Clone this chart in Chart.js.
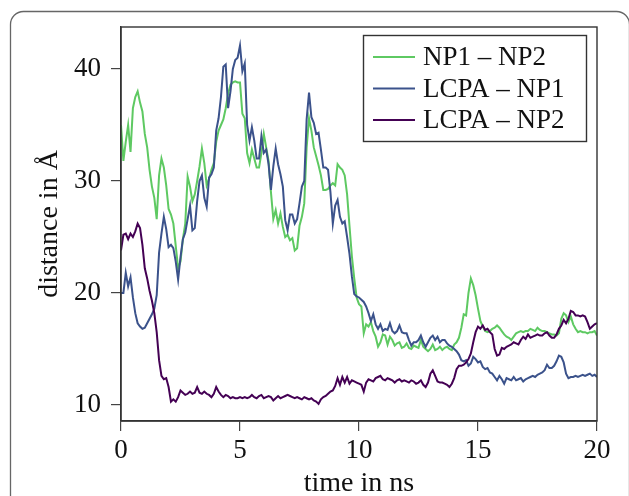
<!DOCTYPE html>
<html>
<head>
<meta charset="utf-8">
<script src="https://cdn.jsdelivr.net/npm/chart.js@4/dist/chart.umd.min.js"></script>
<style>
  body { margin: 0; background: #fff; }
  canvas { display: block; }
</style>
</head>
<body>
<canvas id="distChart" width="629" height="496"></canvas>
<script>
// sampling grid: 0 .. 20 ns every 0.1 ns
var times = Array.from({ length: 201 }, function (_, i) { return i / 10; });

var seriesLabels = ['NP1 – NP2', 'LCPA – NP1', 'LCPA – NP2'];

var np1np2 = [
  35.0, 31.8, 33.5, 35.0, 32.6, 36.5, 37.5, 38.0, 37.0, 36.2,
  34.2, 33.0, 31.0, 29.5, 28.5, 26.6, 30.5, 32.0, 31.2, 29.6,
  27.5, 27.0, 26.2, 24.2, 22.2, 22.8, 24.8, 26.2, 30.4, 29.5,
  28.2, 28.8, 30.0, 31.3, 32.9, 31.6, 29.6, 30.2, 31.0, 31.6,
  33.5, 34.5, 35.0, 35.5, 36.5, 37.8, 38.6, 38.8, 38.9, 38.8,
  38.8,
  36.0, 35.6, 32.5, 31.6, 32.8, 32.0, 31.2, 31.2, 32.5, 34.2,
  33.0, 31.8, 29.0, 26.6, 27.4, 26.2, 27.1, 25.9, 25.0, 25.2,
  24.7, 24.9, 23.8, 24.0, 26.0, 26.8, 28.0, 33.0, 35.6, 34.5,
  33.0, 32.2, 31.4, 30.5, 29.2, 29.2, 29.3, 29.6, 29.8, 29.6,
  31.5, 31.2, 31.0, 30.5, 28.8, 26.0, 23.3, 21.3, 19.6, 19.0,
  18.8, 16.4, 17.2, 17.0, 17.4, 16.6, 16.1, 15.2, 15.6, 16.3,
  16.2, 15.4, 16.1, 15.8, 15.3, 15.5, 15.6, 15.1, 15.2, 15.5,
  15.1, 15.0, 15.3, 15.2, 15.1, 15.8, 15.2, 15.0, 14.8, 15.0,
  15.4, 14.9, 15.0, 15.2, 14.9, 15.1, 15.2, 15.0, 14.9, 15.4,
  15.6, 16.0, 16.9, 18.1, 18.0, 20.0, 21.3, 20.7, 19.8, 18.6,
  17.5, 17.0, 16.6, 16.5, 16.6, 16.8, 16.9, 17.1, 16.9, 16.6,
  16.3, 16.1, 16.0, 15.8, 16.1, 16.4, 16.5, 16.6, 16.5, 16.6,
  16.6, 16.8, 16.7, 16.6, 16.9, 16.7, 16.6, 16.6, 16.5, 16.4,
  16.3, 16.3, 16.2, 16.4, 17.7, 18.2, 18.0, 17.4, 17.9, 17.2,
  16.8, 16.5, 16.6, 16.5, 16.5, 16.4, 16.5, 16.5, 16.6, 16.2
];

var lcpaNp1 = [
  20.0, 20.0, 21.8, 20.6, 21.4, 19.6, 18.2, 17.3, 17.0, 16.8,
  16.9, 17.3, 17.7, 18.1, 18.6, 19.8, 23.6, 25.3, 26.8, 25.7,
  24.1, 24.3, 24.0, 22.8, 21.2, 23.2, 24.8, 25.4, 26.6, 27.8,
  25.6, 25.8, 28.2, 30.0, 30.5, 28.5, 27.7, 30.3, 30.6, 31.2,
  34.5, 35.6, 37.5, 40.2, 40.4, 36.5, 38.0, 40.0, 40.8, 41.0,
  42.1,
  39.8, 40.5, 35.0, 33.6, 34.8, 33.6, 32.0, 32.0, 34.0, 32.5,
  32.8, 31.5, 29.2, 31.3, 32.9, 31.5, 30.6, 29.5, 26.5, 25.6,
  27.0, 27.0, 26.2, 26.6, 28.0, 29.5, 30.0, 35.5, 37.9, 35.7,
  35.2, 34.2, 34.3, 32.8, 31.2, 31.2, 31.0, 29.0, 26.2, 27.8,
  28.3, 26.8, 26.2, 26.4, 25.0, 23.5, 21.5, 19.9, 19.7, 19.6,
  19.4, 19.2, 18.8, 18.2, 17.5, 18.1, 17.2, 16.8, 17.2, 16.6,
  16.8, 16.7, 17.3, 16.6, 16.4, 16.6, 17.1, 16.5, 16.4, 16.4,
  15.8, 15.3, 15.6, 15.6, 15.8, 16.2, 15.6, 15.2, 15.6, 16.0,
  16.2, 15.8, 16.1, 15.6, 15.8, 15.8, 15.5, 15.3, 15.2, 15.0,
  14.8, 14.5, 14.0, 13.9, 14.0, 13.5, 13.7, 14.3, 14.1, 13.8,
  13.9, 13.4, 13.2, 13.3, 12.9, 12.8, 12.5, 12.2, 12.6, 12.3,
  11.9, 12.4, 12.3, 12.2, 12.5, 12.2, 12.3, 12.4, 12.1, 12.3,
  12.4, 12.5, 12.6, 12.5, 12.7, 12.8, 12.9, 13.1, 13.6, 13.3,
  13.3, 13.5, 13.9, 14.4, 14.3, 13.8, 12.8, 12.4, 12.5, 12.5,
  12.6, 12.5, 12.6, 12.7, 12.6, 12.7, 12.8, 12.6, 12.7, 12.5
];

var lcpaNp2 = [
  23.8, 25.2, 25.3, 24.8, 25.3, 25.0, 25.5, 26.2, 25.8, 24.3,
  22.2, 21.3, 20.2, 19.3, 18.2, 16.5, 14.0, 12.6, 12.3, 12.4,
  11.6, 10.3, 10.5, 10.3, 10.7, 11.3, 11.1, 10.9, 11.0, 11.2,
  11.0, 11.1, 11.6, 11.1, 11.0, 11.2, 11.0, 10.9, 10.7, 11.0,
  11.6, 11.2, 10.9, 10.7, 10.9, 10.8, 10.6, 10.7, 10.6, 10.6,
  10.7,
  10.6, 10.7, 10.6, 10.7, 10.9, 10.7, 10.6, 10.8, 10.9, 10.6,
  10.7, 10.8, 10.7, 10.4, 10.6, 10.8, 10.6, 10.7, 10.8, 10.9,
  10.8, 10.7, 10.6, 10.7, 10.6, 10.5, 10.7, 10.6, 10.5, 10.6,
  10.4, 10.3, 10.1, 10.5, 10.7, 10.8, 11.0, 11.2, 11.3, 11.7,
  12.4, 11.8, 12.5, 12.0, 12.5, 11.9, 12.2, 12.1, 12.0, 11.9,
  11.8, 11.2, 12.0, 12.3, 12.2, 12.1, 12.4, 12.5, 12.6, 12.3,
  12.2, 12.4, 12.3, 12.2, 12.0, 12.2, 12.3, 12.1, 12.2, 12.1,
  12.0, 12.2, 12.1, 11.9, 12.0, 12.2, 11.8, 11.6, 12.0, 12.8,
  13.1, 12.6, 12.1, 12.0, 12.0, 11.9, 11.8, 11.6, 11.9, 12.4,
  13.2, 13.5, 13.5, 13.6, 13.8, 14.1, 14.6, 15.6, 16.5, 17.0,
  16.8, 17.1, 16.7, 16.8, 16.5, 16.3, 15.0, 14.4, 14.5, 15.1,
  15.0, 15.2, 15.3, 15.4, 15.6, 15.5, 15.4, 15.8, 16.1, 15.9,
  16.3, 16.0, 16.1, 16.2, 16.3, 16.2, 16.2, 16.4, 16.5, 16.2,
  16.0, 16.0, 16.3, 16.8, 17.1, 17.6, 17.3, 17.7, 18.4, 18.3,
  18.0, 18.0, 17.9, 18.0, 17.9, 17.4, 16.8, 17.0, 17.2, 17.3
];

var xTicks = [0, 5, 10, 15, 20];
var yTicks = [10, 20, 30, 40];

var colors = ['#5ec962', '#3b528b', '#440154'];
var serif = 'Liberation Serif';

function points(vals) {
  return vals.map(function (v, i) { return { x: times[i], y: v }; });
}

// rounded outer frame, plot box and legend box
var framePlugin = {
  id: 'frame',
  beforeDraw: function (chart) {
    var c = chart.ctx;
    c.save();
    c.strokeStyle = '#666';
    c.lineWidth = 1.3;
    c.beginPath();
    c.roundRect(10.5, 11.5, 619, 520, 13);
    c.stroke();
    c.restore();
  },
  afterDraw: function (chart) {
    var c = chart.ctx, a = chart.chartArea;
    c.save();
    c.strokeStyle = '#333';
    c.lineWidth = 1.4;
    c.strokeRect(a.left, a.top, a.right - a.left, a.bottom - a.top);

    // legend
    c.fillStyle = '#fff';
    c.fillRect(363.5, 35.5, 223, 106);
    c.strokeRect(363.5, 35.5, 223, 106);
    c.font = '27px "' + serif + '"';
    c.textBaseline = 'middle';
    c.textAlign = 'left';
    chart.data.datasets.forEach(function (ds, i) {
      var y = 57 + i * 31.5;
      c.strokeStyle = ds.borderColor;
      c.lineWidth = 2;
      c.beginPath();
      c.moveTo(373, y);
      c.lineTo(415, y);
      c.stroke();
      c.fillStyle = '#111';
      c.fillText(ds.label, 423, y + 1);
    });
    c.restore();
  }
};

var ctx = document.getElementById('distChart').getContext('2d');
var distChart = new Chart(ctx, {
  type: 'line',
  data: {
    datasets: [
      { label: seriesLabels[0], data: points(np1np2), borderColor: colors[0], order: 3 },
      { label: seriesLabels[1], data: points(lcpaNp1), borderColor: colors[1], order: 2 },
      { label: seriesLabels[2], data: points(lcpaNp2), borderColor: colors[2], order: 1 }
    ]
  },
  options: {
    responsive: false,
    devicePixelRatio: 1,
    animation: false,
    layout: { padding: { top: 27, right: 32, left: 0, bottom: 0 } },
    elements: {
      point: { radius: 0 },
      line: { borderWidth: 2, tension: 0, fill: false }
    },
    plugins: {
      legend: { display: false },
      tooltip: { enabled: false }
    },
    scales: {
      x: {
        type: 'linear',
        min: 0,
        max: 20,
        afterBuildTicks: function (s) { s.ticks = xTicks.map(function (v) { return { value: v }; }); },
        afterFit: function (s) { s.height = 75; },
        grid: { drawOnChartArea: false, tickLength: 10, color: '#444', lineWidth: 1.2 },
        border: { color: '#333', width: 1.4 },
        ticks: { color: '#111', padding: 4, maxRotation: 0, font: { family: serif, size: 27 } },
        title: {
          display: true,
          text: 'time in ns',
          color: '#111',
          padding: 0,
          font: { family: serif, size: 28, lineHeight: 0.9 }
        }
      },
      y: {
        type: 'linear',
        min: 8.57,
        max: 43.75,
        afterBuildTicks: function (s) { s.ticks = yTicks.map(function (v) { return { value: v }; }); },
        afterFit: function (s) { s.width = 121; },
        grid: { drawOnChartArea: false, tickLength: 10, color: '#444', lineWidth: 1.2 },
        border: { color: '#333', width: 1.4 },
        ticks: { color: '#111', padding: 10, font: { family: serif, size: 27 } },
        title: {
          display: true,
          text: 'distance in Å',
          color: '#111',
          padding: { top: 33, bottom: 0 },
          font: { family: serif, size: 28, lineHeight: 1.2 }
        }
      }
    }
  },
  plugins: [framePlugin]
});
</script>
</body>
</html>
